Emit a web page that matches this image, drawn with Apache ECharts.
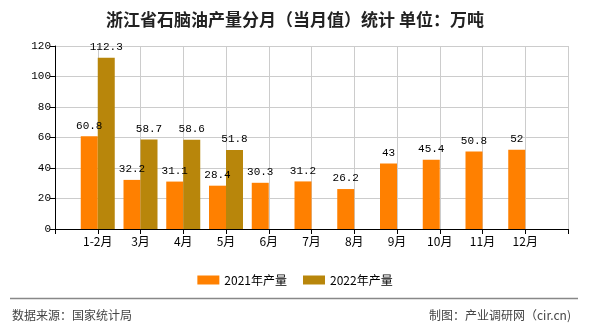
<!DOCTYPE html>
<html>
<head>
<meta charset="utf-8">
<script src="https://cdn.jsdelivr.net/npm/echarts@6/dist/echarts.min.js"></script>
<style>
html,body{margin:0;padding:0;background:#fff;}
#c{width:590px;height:330px;}
</style>
</head>
<body>
<div id="c"></div>
<script>
var categories = ['1-2月','3月','4月','5月','6月','7月','8月','9月','10月','11月','12月'];
var values2021 = [60.8, 32.2, 31.1, 28.4, 30.3, 31.2, 26.2, 43, 45.4, 50.8, 52];
var values2022 = [112.3, 58.7, 58.6, 51.8, null, null, null, null, null, null, null];
var yTicks = [0, 20, 40, 60, 80, 100, 120];
var seriesNames = ['2021年产量', '2022年产量'];

// pad one empty slot on each side of the category axis
var axisData = [''].concat(categories, ['']);
function pad(arr){ return [null].concat(arr, [null]); }

var cjk = '"Noto Sans CJK SC", "Noto Sans", sans-serif';
var mono = '"Liberation Mono", "DejaVu Sans Mono", monospace';

var chart = echarts.init(document.getElementById('c'), null, {renderer:'canvas'});
var labelStyle = {
  show: true, position: 'top', distance: 5,
  color: '#000', fontFamily: mono, fontSize: 11,
  formatter: function(p){ return p.value == null ? '' : String(p.value); }
};
chart.setOption({
  animation: false,
  backgroundColor: '#fff',
  title: {
    text: '浙江省石脑油产量分月（当月值）统计 单位：万吨',
    left: 'center', top: 6,
    textStyle: {fontFamily: cjk, fontSize: 17, fontWeight: 'bold', color: '#222'}
  },
  legend: {
    data: seriesNames,
    top: 269, left: 'center',
    itemWidth: 22, itemHeight: 9, itemGap: 16,
    icon: 'rect',
    textStyle: {fontFamily: cjk, fontSize: 12, color: '#000'}
  },
  grid: {left: 55, right: 22, top: 46, bottom: 101},
  xAxis: {
    type: 'category',
    data: axisData,
    boundaryGap: false,
    axisLine: {lineStyle: {color: '#000', width: 1}},
    axisTick: {show: true, length: 5, lineStyle: {color: '#000'}},
    axisLabel: {color: '#000', fontFamily: cjk, fontSize: 12, margin: 6, interval: 0},
    splitLine: {show: true, lineStyle: {color: '#cccccc', width: 1}}
  },
  yAxis: {
    type: 'value',
    min: yTicks[0], max: yTicks[yTicks.length-1], interval: 20,
    axisLine: {show: true, lineStyle: {color: '#000', width: 1}},
    axisTick: {show: true, length: 5, lineStyle: {color: '#000'}},
    axisLabel: {color: '#000', fontFamily: mono, fontSize: 11, margin: 4},
    splitLine: {show: true, lineStyle: {color: '#cccccc', width: 1}}
  },
  series: [
    {name: seriesNames[0], type: 'bar', data: pad(values2021), barWidth: 17, barGap: '0%',
     itemStyle: {color: '#FF8000'}, label: labelStyle},
    {name: seriesNames[1], type: 'bar', data: pad(values2022), barWidth: 17, barGap: '0%',
     itemStyle: {color: '#B8860B'}, label: labelStyle}
  ],
  graphic: [
    {type: 'line', shape: {x1: 10, y1: 298.5, x2: 578, y2: 298.5}, style: {stroke: '#888', lineWidth: 1.5}},
    {type: 'text', left: 12, top: 309, style: {text: '数据来源：国家统计局', fill: '#444', font: '12px ' + cjk}},
    {type: 'text', right: 19, top: 309, style: {text: '制图：产业调研网（cir.cn)', fill: '#444', font: '12px ' + cjk}}
  ]
});
</script>
</body>
</html>
